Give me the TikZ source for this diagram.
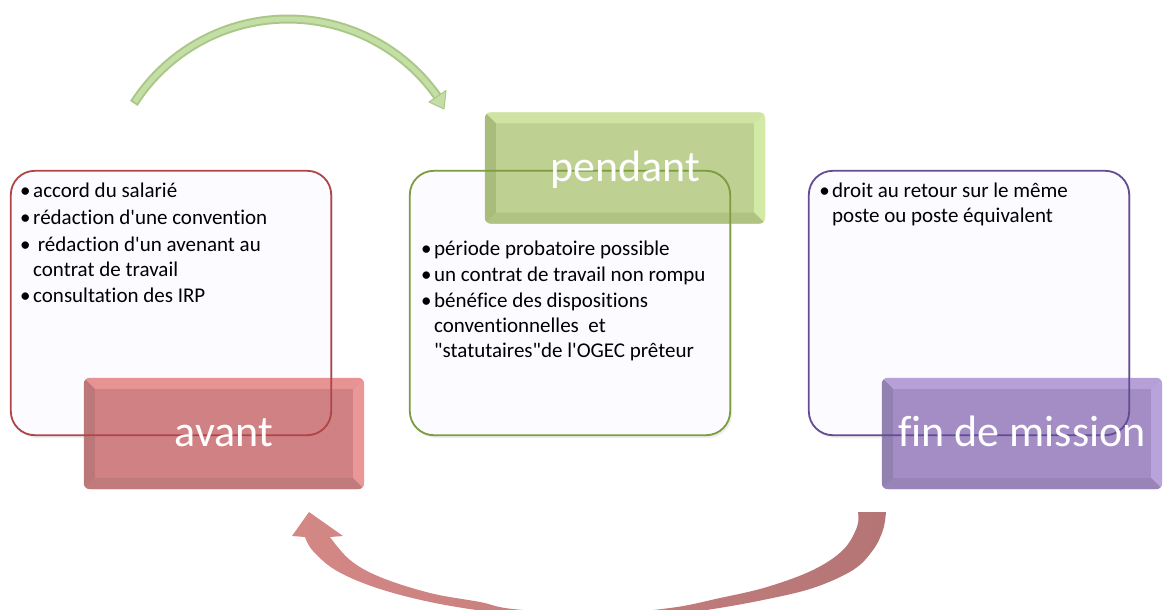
\documentclass[tikz,border=0pt]{standalone}
\usepackage{fontspec}
\setmainfont{Carlito}[Ligatures={TeXOff,NoCommon}]
\usetikzlibrary{calc}
\definecolor{boxfill}{HTML}{FCFBFF}
\definecolor{redB}{HTML}{B04548}
\definecolor{greenB}{HTML}{7C9C3E}
\definecolor{purpleB}{HTML}{634C94}
\definecolor{redM}{HTML}{D08184}
\definecolor{redT}{HTML}{E79293}
\definecolor{redL}{HTML}{BC7879}
\definecolor{redR}{HTML}{EA9798}
\definecolor{redBt}{HTML}{C17B7D}
\definecolor{greenM}{HTML}{BED092}
\definecolor{greenT}{HTML}{CFE3A2}
\definecolor{greenL}{HTML}{A9BC7C}
\definecolor{greenR}{HTML}{D2EAA6}
\definecolor{greenBt}{HTML}{B0C383}
\definecolor{purpleM}{HTML}{A38DC4}
\definecolor{purpleT}{HTML}{B5A0D8}
\definecolor{purpleL}{HTML}{9280B0}
\definecolor{purpleR}{HTML}{B8A4DB}
\definecolor{purpleBt}{HTML}{9884B6}
\definecolor{arrRedL}{HTML}{D48886}
\definecolor{arrRedR}{HTML}{B57575}
\definecolor{arrGrnD}{HTML}{AAC787}
\definecolor{arrGrnL}{HTML}{C4DFA6}
\newcommand\lblbevel[6]{%
  \begin{scope}
    \clip[rounded corners=6pt] (#1.north west) rectangle (#1.south east);
    \fill[#2] (#1.north west) -- (#1.north east) -- ($(#1.north east)+(-#6,#6)$) -- ($(#1.north west)+(#6,#6)$) -- cycle;
    \fill[#3] (#1.north west) -- ($(#1.north west)+(#6,#6)$) -- ($(#1.south west)+(#6,-#6)$) -- (#1.south west) -- cycle;
    \fill[#4] (#1.north east) -- ($(#1.north east)+(-#6,#6)$) -- ($(#1.south east)+(-#6,-#6)$) -- (#1.south east) -- cycle;
    \fill[#5] (#1.south west) -- ($(#1.south west)+(#6,-#6)$) -- ($(#1.south east)+(-#6,-#6)$) -- (#1.south east) -- cycle;
  \end{scope}}
\begin{document}
\begin{tikzpicture}[x=1pt,y=-1pt,
  cbox/.style={rectangle, rounded corners=24pt, fill=boxfill, minimum width=320pt, minimum height=264pt, inner sep=0pt},
  lblbox/.style={rectangle, rounded corners=6pt, minimum width=280pt, minimum height=111pt, inner sep=0pt},
  bodytxt/.style={font=\fontsize{21}{25}\selectfont, anchor=base west, inner sep=0pt},
  lbltxt/.style={font=\fontsize{44}{50}\selectfont, text=white, anchor=base, inner sep=0pt},
  bordr/.style={rounded corners=24pt, line width=1.8pt}]
\useasboundingbox (0,0) rectangle (1164,610);

% top green arrow
\coordinate (gstart) at (133.9,103.4);
\coordinate (gtip) at (444,109);
\draw[line width=9pt, arrGrnD] plot[domain=212.6:324.7, samples=60] ({288+183*cos(\x)},{202+183*sin(\x)});
\draw[line width=5pt, arrGrnL] plot[domain=213.2:324.7, samples=60] ({288+183*cos(\x)},{202+183*sin(\x)});
\filldraw[fill=arrGrnL, draw=arrGrnD, line width=1pt, line join=round] (429,102) -- (gtip) -- (446,90.5) -- cycle;

% bottom red arrow
\begin{scope}
\clip (0,0) rectangle (1164,610);
\coordinate (rtip) at (309,512);
\shade[left color=arrRedL, right color=arrRedR]
  plot[smooth, tension=0.6] coordinates {(886,512) (883,530) (873,550) (853,570) (813,588) (763,600) (713,609) (680,613) (595,620) (510,614) (440,604) (380,589) (337,571) (313,551) (305,537)}
  -- (292,536) -- (rtip) -- (343,536) --
  plot[smooth, tension=0.6] coordinates {(330,537) (350,560) (380,577) (430,593) (480,602) (513,609) (595,614) (670,608) (720,598) (767,587) (813,570) (843,550) (857,527) (858,512)}
  -- cycle;
\end{scope}

% content boxes (fill)
\fill[black!7, rounded corners=24pt] (13,174) rectangle (333,438);
\fill[black!7, rounded corners=24pt] (412,174) rectangle (732,438);
\fill[black!7, rounded corners=24pt] (811,174) rectangle (1131,438);
\node[cbox] (avantbox) at (171,303) {};
\node[cbox] (pendbox) at (570,303) {};
\node[cbox] (finbox) at (969,303) {};

% labels
\node[lblbox, fill=redM] (avantlbl) at (224,433.5) {};
\lblbevel{avantlbl}{redT}{redL}{redR}{redBt}{11}
\node[lblbox, fill=greenM] (pendlbl) at (625,168) {};
\lblbevel{pendlbl}{greenT}{greenL}{greenR}{greenBt}{11}
\node[lblbox, fill=purpleM] (finlbl) at (1022,433.5) {};
\lblbevel{finlbl}{purpleT}{purpleL}{purpleR}{purpleBt}{11}

% content box borders on top
\draw[bordr, redB] (avantbox.north west) rectangle (avantbox.south east);
\draw[bordr, greenB] (pendbox.north west) rectangle (pendbox.south east);
\draw[bordr, purpleB] (finbox.north west) rectangle (finbox.south east);

% label texts
\node[lbltxt] (avanttxt) at (224,446) {avant};
\node[lbltxt] (pendtxt) at (625,181) {pendant};
\node[lbltxt] (fintxt) at (1022,446) {fin de mission};

% body texts
\node[bodytxt] (a1) at (33,197) {\llap{•\hspace{2.5pt}}accord du salarié};
\node[bodytxt] (a2) at (33,224) {\llap{•\hspace{2.5pt}}rédaction d'une convention};
\node[bodytxt] (a3) at (33,251) {\llap{•\hspace{2.5pt}}\ rédaction d'un avenant au};
\node[bodytxt] (a4) at (33,276) {contrat de travail};
\node[bodytxt] (a5) at (33,302) {\llap{•\hspace{2.5pt}}consultation des IRP};

\node[bodytxt] (p1) at (434,255) {\llap{•\hspace{2.5pt}}période probatoire possible};
\node[bodytxt] (p2) at (434,281) {\llap{•\hspace{2.5pt}}un contrat de travail non rompu};
\node[bodytxt] (p3) at (434,307) {\llap{•\hspace{2.5pt}}bénéfice des dispositions};
\node[bodytxt] (p4) at (434,332) {conventionnelles\ \ et};
\node[bodytxt] (p5) at (434,357) {"statutaires"de l'OGEC prêteur};

\node[bodytxt] (f1) at (832,197) {\llap{•\hspace{2.5pt}}droit au retour sur le même};
\node[bodytxt] (f2) at (832,222) {poste ou poste équivalent};
\end{tikzpicture}
\end{document}
